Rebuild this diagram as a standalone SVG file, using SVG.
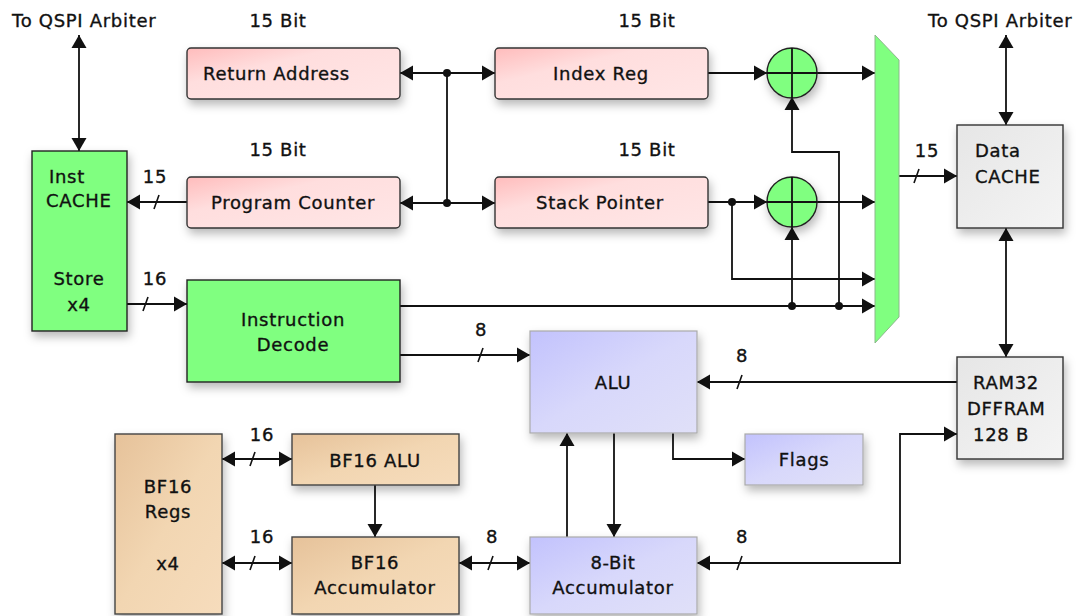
<svg xmlns="http://www.w3.org/2000/svg" width="1079" height="616" viewBox="0 0 1079 616">
  <defs>
    <style>
      text { font-family: "DejaVu Sans", Verdana, sans-serif; font-size: 18px; letter-spacing: 0.7px; fill: #111; stroke: #111; stroke-width: 0.35px; }
      .c { text-anchor: middle; }
      .wire { fill: none; stroke: #111; stroke-width: 1.8; }
      .arr { marker-end: url(#ah); }
      .bi { marker-start: url(#ah); marker-end: url(#ah); }
      .dot { fill: #111; }
      .slash { stroke: #111; stroke-width: 1.6; }
      .pink { fill: url(#gPink); stroke: #333; stroke-width: 1.4; }
      .green { fill: #80ff80; stroke: #222; stroke-width: 1.4; }
      .gray { fill: url(#gGray); stroke: #333; stroke-width: 1.4; }
      .blue { fill: url(#gBlue); stroke: #aaa; stroke-width: 1.2; }
      .tan { fill: url(#gTan); stroke: #444; stroke-width: 1.4; }
    </style>
    <marker id="ah" markerUnits="userSpaceOnUse" markerWidth="14" markerHeight="16" refX="13" refY="8" orient="auto-start-reverse">
      <path d="M0,0.5 L13,8 L0,15.5 z" fill="#111"/>
    </marker>
    <linearGradient id="gPink" x1="0" y1="0" x2="1" y2="1">
      <stop offset="0" stop-color="#ffbcbc"/>
      <stop offset="0.35" stop-color="#ffdede"/>
      <stop offset="1" stop-color="#ffe6e6"/>
    </linearGradient>
    <linearGradient id="gGray" x1="0" y1="0" x2="1" y2="1">
      <stop offset="0" stop-color="#e6e6e6"/>
      <stop offset="1" stop-color="#f4f4f4"/>
    </linearGradient>
    <linearGradient id="gBlue" x1="0" y1="0" x2="1" y2="1">
      <stop offset="0" stop-color="#c2c2fd"/>
      <stop offset="0.5" stop-color="#d8d8fb"/>
      <stop offset="1" stop-color="#e0e0f8"/>
    </linearGradient>
    <linearGradient id="gTan" x1="0" y1="0" x2="1" y2="1">
      <stop offset="0" stop-color="#e6c29a"/>
      <stop offset="0.5" stop-color="#f2d6b2"/>
      <stop offset="1" stop-color="#f6dcbc"/>
    </linearGradient>
    <filter id="shadow" x="-20%" y="-20%" width="140%" height="150%">
      <feDropShadow dx="2" dy="5" stdDeviation="5" flood-color="#000" flood-opacity="0.28"/>
    </filter>
  </defs>

  <rect width="1079" height="616" fill="#fff"/>

  <!-- external interface labels -->
  <text x="12" y="27">To QSPI Arbiter</text>
  <text x="928" y="27">To QSPI Arbiter</text>

  <!-- register width labels -->
  <text class="c" x="278" y="27">15 Bit</text>
  <text class="c" x="647" y="27">15 Bit</text>
  <text class="c" x="278" y="156">15 Bit</text>
  <text class="c" x="647" y="156">15 Bit</text>

  <!-- connectors -->
  <g id="connectors">
    <line class="wire bi" x1="79" y1="35" x2="79" y2="151"/>
    <line class="wire bi" x1="1006" y1="35" x2="1006" y2="125"/>
    <line class="wire bi" x1="1006" y1="228" x2="1006" y2="357"/>

    <line class="wire bi" x1="400" y1="73" x2="495" y2="73"/>
    <line class="wire bi" x1="400" y1="203" x2="495" y2="203"/>
    <line class="wire" x1="447" y1="73" x2="447" y2="203"/>
    <circle class="dot" cx="447" cy="73" r="4"/>
    <circle class="dot" cx="447" cy="203" r="4"/>

    <line class="wire arr" x1="187" y1="202" x2="127" y2="202"/>
    <line class="slash" x1="154" y1="209" x2="159" y2="195"/>
    <text class="c" x="155" y="183">15</text>

    <line class="wire arr" x1="127" y1="304" x2="187" y2="304"/>
    <line class="slash" x1="143" y1="311" x2="148" y2="297"/>
    <text class="c" x="155" y="285">16</text>

    <line class="wire arr" x1="708" y1="73" x2="767" y2="73"/>
    <line class="wire arr" x1="817" y1="73" x2="875" y2="73"/>
    <line class="wire arr" x1="708" y1="202" x2="767" y2="202"/>
    <line class="wire arr" x1="817" y1="202" x2="875" y2="202"/>

    <path class="wire arr" d="M732,202 V279 H875"/>
    <circle class="dot" cx="732" cy="202" r="4"/>

    <line class="wire arr" x1="400" y1="306" x2="875" y2="306"/>
    <line class="wire arr" x1="792" y1="306" x2="792" y2="227"/>
    <path class="wire arr" d="M839,306 V152 H792 V97"/>
    <circle class="dot" cx="792" cy="306" r="4"/>
    <circle class="dot" cx="839" cy="306" r="4"/>

    <line class="wire arr" x1="899" y1="176" x2="957" y2="176"/>
    <line class="slash" x1="914" y1="183" x2="919" y2="169"/>
    <text class="c" x="927" y="157">15</text>

    <line class="wire arr" x1="400" y1="355" x2="530" y2="355"/>
    <line class="slash" x1="478" y1="362" x2="483" y2="348"/>
    <text class="c" x="481" y="336">8</text>

    <line class="wire arr" x1="957" y1="382" x2="697" y2="382"/>
    <line class="slash" x1="737" y1="389" x2="742" y2="375"/>
    <text class="c" x="742" y="362">8</text>

    <path class="wire arr" d="M673,433 V459 H745"/>
    <line class="wire arr" x1="614" y1="433" x2="614" y2="537"/>
    <line class="wire arr" x1="567" y1="537" x2="567" y2="433"/>

    <path class="wire bi" d="M697,563 H900 V434 H957"/>
    <line class="slash" x1="737" y1="570" x2="742" y2="556"/>
    <text class="c" x="742" y="543">8</text>

    <line class="wire bi" x1="222" y1="459" x2="292" y2="459"/>
    <line class="slash" x1="250" y1="466" x2="255" y2="452"/>
    <text class="c" x="262" y="441">16</text>

    <line class="wire bi" x1="222" y1="563" x2="292" y2="563"/>
    <line class="slash" x1="250" y1="570" x2="255" y2="556"/>
    <text class="c" x="262" y="543">16</text>

    <line class="wire arr" x1="375" y1="485" x2="375" y2="537"/>

    <line class="wire bi" x1="459" y1="563" x2="530" y2="563"/>
    <line class="slash" x1="488" y1="570" x2="493" y2="556"/>
    <text class="c" x="492" y="543">8</text>
  </g>

  <!-- nodes -->
  <g id="inst-cache">
    <rect class="green" x="32" y="151" width="95" height="180" filter="url(#shadow)"/>
    <text x="49" y="183">Inst</text>
    <text x="46" y="207">CACHE</text>
    <text class="c" x="79" y="285">Store</text>
    <text class="c" x="79" y="311">x4</text>
  </g>

  <g id="return-address">
    <rect class="pink" x="187" y="48" width="213" height="51" rx="4" filter="url(#shadow)"/>
    <text x="203" y="80">Return Address</text>
  </g>

  <g id="program-counter">
    <rect class="pink" x="187" y="177" width="213" height="51" rx="4" filter="url(#shadow)"/>
    <text class="c" x="293" y="209">Program Counter</text>
  </g>

  <g id="index-reg">
    <rect class="pink" x="495" y="48" width="213" height="51" rx="4" filter="url(#shadow)"/>
    <text class="c" x="601" y="80">Index Reg</text>
  </g>

  <g id="stack-pointer">
    <rect class="pink" x="495" y="177" width="213" height="51" rx="4" filter="url(#shadow)"/>
    <text class="c" x="600" y="209">Stack Pointer</text>
  </g>

  <g id="adder-index">
    <circle class="green" cx="792" cy="73" r="25" filter="url(#shadow)"/>
    <path class="wire" d="M767,73 H817 M792,48 V98"/>
  </g>

  <g id="adder-stack">
    <circle class="green" cx="792" cy="202" r="25" filter="url(#shadow)"/>
    <path class="wire" d="M767,202 H817 M792,177 V227"/>
  </g>

  <g id="address-mux">
    <polygon points="875,35 899,60 899,317 875,343" fill="#80ff80" stroke="#8cb88c" stroke-width="1"/>
  </g>

  <g id="data-cache">
    <rect class="gray" x="957" y="125" width="106" height="103" filter="url(#shadow)"/>
    <text x="975" y="157">Data</text>
    <text x="975" y="183">CACHE</text>
  </g>

  <g id="instruction-decode">
    <rect class="green" x="187" y="280" width="213" height="102" filter="url(#shadow)"/>
    <text class="c" x="293" y="326">Instruction</text>
    <text class="c" x="293" y="351">Decode</text>
  </g>

  <g id="alu">
    <rect class="blue" x="530" y="331" width="167" height="102" filter="url(#shadow)"/>
    <text class="c" x="613" y="389">ALU</text>
  </g>

  <g id="ram32">
    <rect class="gray" x="957" y="357" width="106" height="102" filter="url(#shadow)"/>
    <text x="973" y="389">RAM32</text>
    <text x="967" y="415">DFFRAM</text>
    <text x="973" y="441">128 B</text>
  </g>

  <g id="flags">
    <rect class="blue" x="745" y="434" width="118" height="51" filter="url(#shadow)"/>
    <text class="c" x="804" y="466">Flags</text>
  </g>

  <g id="acc8">
    <rect class="blue" x="530" y="537" width="167" height="77" filter="url(#shadow)"/>
    <text class="c" x="613" y="569">8-Bit</text>
    <text class="c" x="613" y="594">Accumulator</text>
  </g>

  <g id="bf16-regs">
    <rect class="tan" x="115" y="434" width="107" height="180" filter="url(#shadow)"/>
    <text class="c" x="168" y="493">BF16</text>
    <text class="c" x="168" y="518">Regs</text>
    <text class="c" x="168" y="570">x4</text>
  </g>

  <g id="bf16-alu">
    <rect class="tan" x="292" y="434" width="167" height="51" filter="url(#shadow)"/>
    <text class="c" x="375" y="467">BF16 ALU</text>
  </g>

  <g id="bf16-acc">
    <rect class="tan" x="292" y="537" width="167" height="77" filter="url(#shadow)"/>
    <text class="c" x="375" y="569">BF16</text>
    <text class="c" x="375" y="594">Accumulator</text>
  </g>
</svg>
